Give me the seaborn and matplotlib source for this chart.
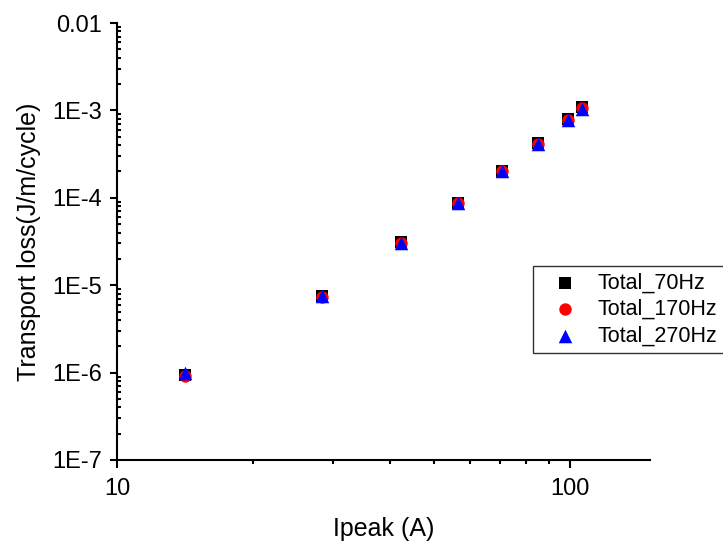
import numpy as np
import pandas as pd
import seaborn as sns
import matplotlib
matplotlib.use("Agg")
import matplotlib.pyplot as plt
from matplotlib.ticker import LogLocator, FixedLocator, FuncFormatter, NullFormatter

# ---- data ----
ipeak = [14.14, 28.28, 42.43, 56.57, 70.71, 84.85, 98.99, 106.07]
loss_70hz = [9.3e-7, 7.6e-6, 3.1e-5, 8.8e-5, 2.05e-4, 4.2e-4, 7.9e-4, 1.08e-3]
loss_170hz = [9.1e-7, 7.4e-6, 3.0e-5, 8.7e-5, 2.0e-4, 4.1e-4, 7.8e-4, 1.06e-3]
loss_270hz = [9.9e-7, 7.6e-6, 3.05e-5, 8.7e-5, 2.0e-4, 4.1e-4, 7.8e-4, 1.05e-3]
series_names = ["Total_70Hz", "Total_170Hz", "Total_270Hz"]
y_tick_values = [1e-7, 1e-6, 1e-5, 1e-4, 1e-3, 1e-2]
y_tick_labels = ["1E-7", "1E-6", "1E-5", "1E-4", "1E-3", "0.01"]
x_tick_values = [10, 100]
x_tick_labels = ["10", "100"]

df = pd.DataFrame({
    "Ipeak": ipeak * 3,
    "loss": loss_70hz + loss_170hz + loss_270hz,
    "series": [series_names[0]] * len(ipeak) + [series_names[1]] * len(ipeak) + [series_names[2]] * len(ipeak),
})

sns.set_theme(style="ticks")
plt.rcParams["font.family"] = ["Liberation Sans", "DejaVu Sans"]
plt.rcParams["text.color"] = "black"
plt.rcParams["axes.labelcolor"] = "black"
plt.rcParams["xtick.color"] = "black"
plt.rcParams["ytick.color"] = "black"

fig = plt.figure(figsize=(7.23, 5.44), dpi=100)
ax = fig.add_axes([117 / 723, 1 - 460 / 544, (650 - 117) / 723, (460 - 23) / 544])

palette = {series_names[0]: "#000000", series_names[1]: "#ff0000", series_names[2]: "#0000ff"}
markers = {series_names[0]: "s", series_names[1]: "o", series_names[2]: "^"}
sizes = {series_names[0]: 70, series_names[1]: 80, series_names[2]: 95}

for name in series_names:
    sub = df[df["series"] == name]
    sns.scatterplot(data=sub, x="Ipeak", y="loss", ax=ax, color=palette[name],
                    marker=markers[name], s=sizes[name], linewidth=0, label=name)

ax.set_xscale("log")
ax.set_yscale("log")
ax.set_xlim(10, 150)
ax.set_ylim(1e-7, 1e-2)

ax.xaxis.set_major_locator(FixedLocator(x_tick_values))
ax.xaxis.set_major_formatter(FuncFormatter(lambda v, p: x_tick_labels[x_tick_values.index(v)] if v in x_tick_values else ""))
ax.xaxis.set_minor_locator(LogLocator(base=10, subs=np.arange(2, 10)))
ax.xaxis.set_minor_formatter(NullFormatter())

ax.yaxis.set_major_locator(FixedLocator(y_tick_values))
ax.yaxis.set_major_formatter(FuncFormatter(lambda v, p: y_tick_labels[int(round(np.log10(v))) + 7]))
ax.yaxis.set_minor_locator(LogLocator(base=10, subs=np.arange(2, 10)))
ax.yaxis.set_minor_formatter(NullFormatter())

for sp in ["top", "right"]:
    ax.spines[sp].set_visible(False)
for sp in ["left", "bottom"]:
    ax.spines[sp].set_linewidth(1.5)
    ax.spines[sp].set_color("black")

ax.tick_params(axis="x", which="major", direction="out", length=6, width=1.5, labelsize=17, pad=7)
ax.tick_params(axis="x", which="minor", direction="out", length=3, width=1.5)
ax.tick_params(axis="y", which="major", direction="out", length=5, width=1.5, labelsize=17, pad=6)
ax.tick_params(axis="y", which="minor", direction="in", length=3, width=1.5)

ax.set_xlabel("Ipeak (A)", fontsize=18, labelpad=12)
ax.set_ylabel("Transport loss(J/m/cycle)", fontsize=18, labelpad=8)

leg = ax.legend(loc="upper left", bbox_to_anchor=((533 - 117) / 533, (460 - 266) / 437),
                borderaxespad=0, fontsize=15.5, frameon=True, fancybox=False,
                edgecolor="black", labelspacing=0.25, handletextpad=0.3,
                borderpad=0.3, handlelength=2.4)
leg.get_frame().set_linewidth(1.0)
leg.set_clip_on(False)

fig.savefig("out.png", dpi=100)
